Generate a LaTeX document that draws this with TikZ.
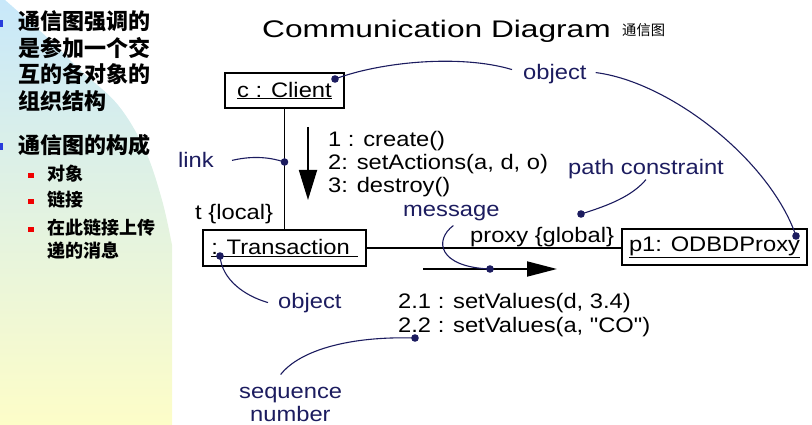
\documentclass[tikz,border=0pt]{standalone}
\usepackage{fontspec}
\newfontfamily\diagfont[FakeStretch=1.13]{Liberation Sans}
\newfontfamily\titlefont[FakeStretch=1.32]{Liberation Sans}
\newfontfamily\cjkfont{Noto Sans CJK SC}
\usepackage{tikz}
\usetikzlibrary{arrows.meta}
\definecolor{notecol}{RGB}{28,28,95}
\definecolor{panelblue}{RGB}{200,232,250}
\definecolor{panelgreen}{RGB}{228,243,226}
\definecolor{panelyellow}{RGB}{253,253,200}
\definecolor{bulletblue}{RGB}{40,60,220}
\definecolor{bulletred}{RGB}{240,0,0}

\begin{document}
\begin{tikzpicture}[x=1pt,y=-1pt,
	txt/.style={font=\diagfont\fontsize{21}{24}\selectfont, inner sep=0pt, anchor=base west},
	note/.style={txt, text=notecol},
	objbox/.style={draw, line width=1.5pt, minimum height=36pt, inner sep=0pt,
		font=\diagfont\fontsize{21}{24}\selectfont},
	linkline/.style={line width=1.5pt},
	conn/.style={draw=notecol, line width=1.1pt},
	dot/.style={fill=notecol},
	msg/.style={line width=1.8pt, -{Triangle[length=30pt,width=18pt]}},
	cjkhead/.style={font=\cjkfont\bfseries\fontsize{22}{26}\selectfont, inner sep=0pt, anchor=base west},
	cjkitem/.style={font=\cjkfont\bfseries\fontsize{18}{22}\selectfont, inner sep=0pt, anchor=base west}]
	\useasboundingbox (0,0) rectangle (812,425);

	% left panel
	\shade[top color=panelblue, middle color=panelgreen, bottom color=panelyellow]
		(0,0) -- plot[smooth, tension=0.6] coordinates {(5,0) (50,40) (80,70) (118,105) (145,150) (162,200) (172,245)}
		-- (172,425) -- (0,425) -- cycle;
	\fill[bulletblue] (-4,20) rectangle (3,27);
	\fill[bulletblue] (-4,143) rectangle (3,150);
	\foreach \y in {173,199,227}
		\fill[bulletred] (28,\y) rectangle (33.5,\y+5.5);
	\foreach \t [count=\i] in {通信图强调的, 是参加一个交, 互的各对象的, 组织结构}
		\node[cjkhead] (intro\i) at (18,{29.5+26.7*(\i-1)}) {\t};
	\node[cjkhead] (parts) at (18,154) {通信图的构成};
	\node[cjkitem] (partA) at (47,181) {对象};
	\node[cjkitem] (partB) at (47,207) {链接};
	\node[cjkitem] (partC) at (47,234) {在此链接上传};
	\node[cjkitem] (partD) at (47,257) {递的消息};

	% title
	\node[font=\titlefont\fontsize{24}{28}\selectfont, inner sep=0pt, anchor=base west] (title) at (262,38) {Communication Diagram};
	\node[font=\cjkfont\fontsize{14.3}{17}\selectfont, inner sep=0pt, anchor=base west] (titlecn) at (622,36) {通信图};

	% objects and links
	\node[objbox, minimum width=119pt, minimum height=35pt] (client) at (284.5,90.5) {\underline{c : Client}};
	\node[objbox, minimum width=163pt] (trans) at (284.5,248) {\underline{: Transaction\hspace{8pt}}};
	\node[objbox, minimum width=185pt, line width=2.2pt] (proxy) at (714.5,247) {\underline{p1: ODBDProxy}};
	\draw[linkline] (client.south) -- (trans.north);
	\draw[linkline] (trans.east) -- (trans.east -| proxy.west);
	\node[txt] (tlocal) at (195,219) {t \{local\}};
	\node[txt] (pglobal) at (470,242) {proxy \{global\}};

	% messages
	\coordinate (downA) at (308,127);
	\coordinate (downB) at (308,200);
	\draw[msg] (downA) -- (downB);
	\node[txt] (msgA) at (328,147) {1 : create()};
	\node[txt] (msgB) at (328,170) {2: setActions(a, d, o)};
	\node[txt] (msgC) at (328,193) {3: destroy()};
	\coordinate (rightA) at (423,269);
	\coordinate (rightB) at (557,269);
	\draw[msg, -{Triangle[length=30pt,width=15pt]}] (rightA) -- (rightB);
	\node[txt] (msgD) at (398,308) {2.1 : setValues(d, 3.4)};
	\node[txt] (msgE) at (398,332) {2.2 : setValues(a, "CO")};

	% notes
	\node[note] (linklbl) at (178,168) {link};
	\node[note] (objtop) at (523,80) {object};
	\node[note] (objlow) at (278,308) {object};
	\node[note] (msglbl) at (403,217) {message};
	\node[note] (pathlbl) at (568,175) {path constraint};
	\node[note] (seqlbl) at (239,398) {sequence};
	\node[note] (numlbl) at (250,421) {number};

	\coordinate (clientdot) at (335,79);
	\coordinate (linkdot) at (284.5,162);
	\coordinate (transdot) at (220,256);
	\coordinate (msgdot) at (490,269);
	\coordinate (pathdot) at (581,214);
	\coordinate (seqdot) at (415,338);
	\coordinate (proxydot) at (796,236);

	\draw[conn] ([xshift=18pt]linklbl.east) .. controls (255,155) and (272,158) .. (linkdot);
	\draw[conn] (clientdot) .. controls (380,62) and (460,54) .. ([xshift=-11pt,yshift=5pt]objtop.west);
	\draw[conn] ([xshift=9pt,yshift=2pt]objtop.east) .. controls (670,82) and (770,160) .. (proxydot);
	\draw[conn] (transdot) .. controls (222,280) and (245,296) .. ([xshift=-10pt]objlow.west);
	\draw[conn] ([xshift=2pt,yshift=-4pt]msglbl.south) .. controls (434,240) and (438,267) .. (msgdot);
	\draw[conn] (pathdot) .. controls (610,205) and (632,196) .. (pathlbl.south);
	\draw[conn] (seqdot) .. controls (350,336) and (300,350) .. ([xshift=-10pt,yshift=12pt]seqlbl.north);
	\foreach \d in {clientdot,linkdot,transdot,msgdot,pathdot,seqdot,proxydot}
		\fill[dot] (\d) circle (3.8pt);
\end{tikzpicture}
\end{document}
